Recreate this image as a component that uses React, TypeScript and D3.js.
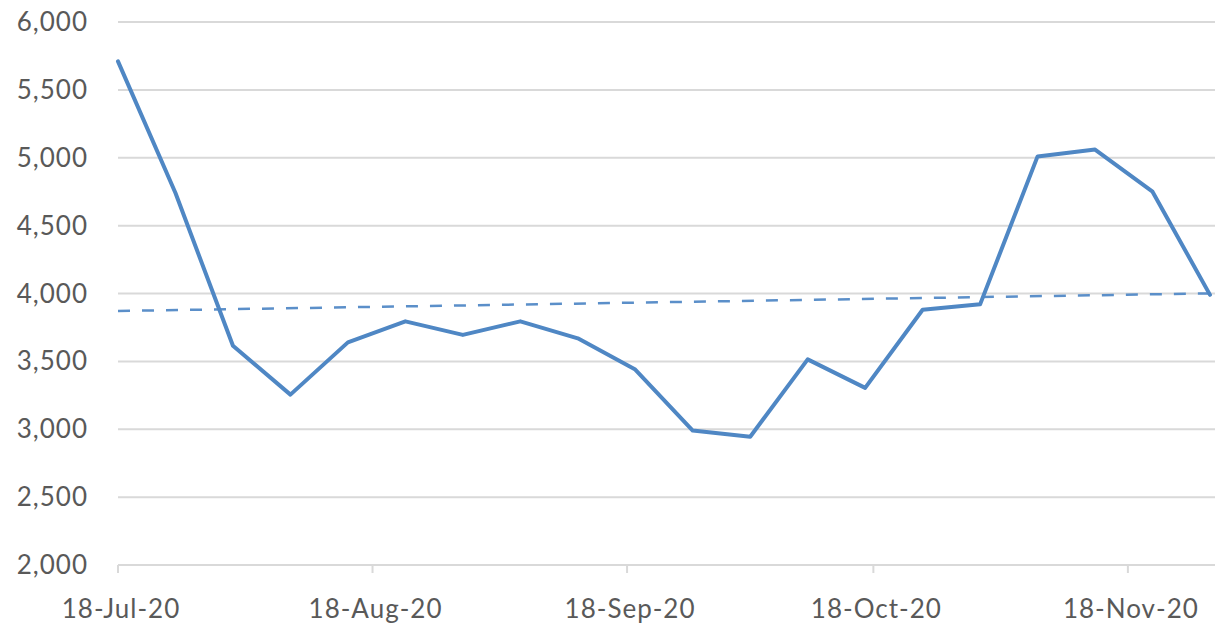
import React from "react";
import * as d3 from "d3";

// Weekly observations
const startDate = "2020-07-18";
const weekCount = 20;
const values = [5710, 4740, 3615, 3255, 3640, 3795, 3695, 3795, 3670, 3440, 2990, 2945, 3515, 3305, 3880, 3920, 5010, 5060, 4750, 3990];
const yTicks = [2000, 2500, 3000, 3500, 4000, 4500, 5000, 5500, 6000];
const xTickDates = ["2020-07-18", "2020-08-18", "2020-09-18", "2020-10-18", "2020-11-18"];

const W = 1216;
const H = 627;
const left = 118;
const right = 1210;
const gridRight = 1215;
const top = 22;
const bottom = 565;

const parse = d3.timeParse("%Y-%m-%d");
const fmtDate = d3.timeFormat("%d-%b-%y");
const fmtNum = d3.format(",");

export default function App() {
  const start = parse(startDate) as Date;
  const dates = values.map((_, i) => d3.timeDay.offset(start, i * 7));
  const x = d3
    .scaleTime()
    .domain([start, d3.timeDay.offset(start, (weekCount - 1) * 7)])
    .range([left, right]);
  const y = d3.scaleLinear().domain([2000, 6000]).range([bottom, top]);

  const line = d3
    .line<number>()
    .x((_, i) => x(dates[i]))
    .y((v) => y(v));

  // linear trendline (least squares over index)
  const n = values.length;
  const meanI = (n - 1) / 2;
  const meanV = d3.mean(values) as number;
  let num = 0;
  let den = 0;
  values.forEach((v, i) => {
    num += (i - meanI) * (v - meanV);
    den += (i - meanI) * (i - meanI);
  });
  const slope = num / den;
  const t0 = meanV - slope * meanI;
  const t1 = meanV + slope * meanI;

  const textColor = "#595959";
  const font = "Lato, 'Open Sans', sans-serif";

  return (
    <svg
      width={W}
      height={H}
      style={{ position: "absolute", left: 0, top: 0, background: "#fff" }}
    >
      {yTicks.map((t) => (
        <g key={t}>
          {t !== 2000 && (
            <line x1={left} x2={gridRight} y1={y(t)} y2={y(t)} stroke="#d9d9d9" strokeWidth={2} />
          )}
          <text
            x={88}
            y={y(t)}
            dy="0.35em"
            textAnchor="end"
            fill={textColor}
            fontFamily={font}
            fontSize={26}
            letterSpacing={1}
          >
            {fmtNum(t)}
          </text>
        </g>
      ))}
      {/* x axis */}
      <line x1={left} x2={gridRight} y1={bottom} y2={bottom} stroke="#d9d9d9" strokeWidth={2} />
      {xTickDates.map((s) => {
        const d = parse(s) as Date;
        const xx = x(d);
        return (
          <g key={s}>
            <line x1={xx} x2={xx} y1={bottom} y2={bottom + 8} stroke="#d9d9d9" strokeWidth={2} />
            <text
              x={xx + 3}
              y={618}
              textAnchor="middle"
              fill={textColor}
              fontFamily={font}
              fontSize={26}
              letterSpacing={1}
            >
              {fmtDate(d)}
            </text>
          </g>
        );
      })}
      {/* trendline */}
      <line
        x1={x(dates[0])}
        x2={x(dates[n - 1])}
        y1={y(t0)}
        y2={y(t1)}
        stroke="#5b8fc9"
        strokeWidth={2.5}
        strokeDasharray="12,12"
      />
      {/* series */}
      <path
        d={line(values) as string}
        fill="none"
        stroke="#4f87c4"
        strokeWidth={4}
        strokeLinejoin="round"
        strokeLinecap="round"
      />
    </svg>
  );
}
